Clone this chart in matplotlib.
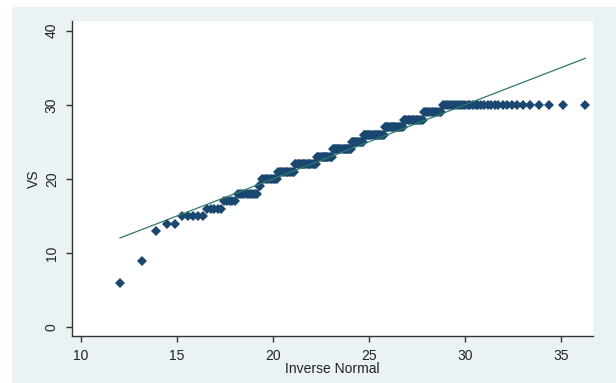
import numpy as np
import matplotlib.pyplot as plt
from matplotlib.patches import Rectangle
from statistics import NormalDist

vs_levels = [6, 9, 13, 14, 15, 16, 17, 18, 19, 20, 21, 22, 23, 24, 25, 26, 27, 28, 29, 30]
vs_counts = [1, 1, 1, 2, 5, 5, 5, 10, 2, 10, 12, 18, 14, 18, 11, 19, 16, 15, 12, 33]

xticks = [10, 15, 20, 25, 30, 35]
yticks = [0, 10, 20, 30, 40]

vs = np.repeat(vs_levels, vs_counts).astype(float)
n = len(vs)
# qnorm: sorted values against normal quantiles with the sample mean / sd
nd = NormalDist(vs.mean(), vs.std(ddof=1))
inv = np.array([nd.inv_cdf(i / (n + 1)) for i in range(1, n + 1)])

plt.rcParams['font.family'] = ['Liberation Sans', 'DejaVu Sans']
txt = '#222222'

fig = plt.figure(figsize=(6.16, 3.83), dpi=100)
fig.patch.set_facecolor('white')
fig.patches.append(Rectangle((12 / 616, 0), 1 - 12 / 616, 1 - 6.7 / 383,
                             transform=fig.transFigure, facecolor='#eaf2f3',
                             edgecolor='none', zorder=-1))

ax = fig.add_axes([72 / 616, 1 - 336 / 383, (593 - 72) / 616, (336 - 20.7) / 383])
ax.set_facecolor('white')

ax.plot(inv, np.sort(vs), 'D', color='#1a476f', ms=5.2, mew=0, zorder=2)
ax.plot([inv.min(), inv.max()], [inv.min(), inv.max()], color='#2f7a68', lw=0.9, zorder=3)

ax.set_xlim(9.55, 36.68)
ax.set_ylim(-1.17, 41.35)
ax.set_xticks(xticks)
ax.set_yticks(yticks)

for s in ['top', 'right']:
    ax.spines[s].set_visible(False)
for s in ['left', 'bottom']:
    ax.spines[s].set_color('#333333')
    ax.spines[s].set_linewidth(1.0)

ax.tick_params(axis='both', direction='out', length=4.5, width=1.0, color='#333333',
               labelsize=10, labelcolor=txt, pad=5)
plt.setp(ax.get_yticklabels(), rotation=90, va='center')

ax.set_xlabel('Inverse Normal', fontsize=10, color=txt, labelpad=-1)
ax.set_ylabel('VS', fontsize=10, color=txt, labelpad=3)

fig.savefig('out.png', dpi=100, facecolor=fig.get_facecolor())
